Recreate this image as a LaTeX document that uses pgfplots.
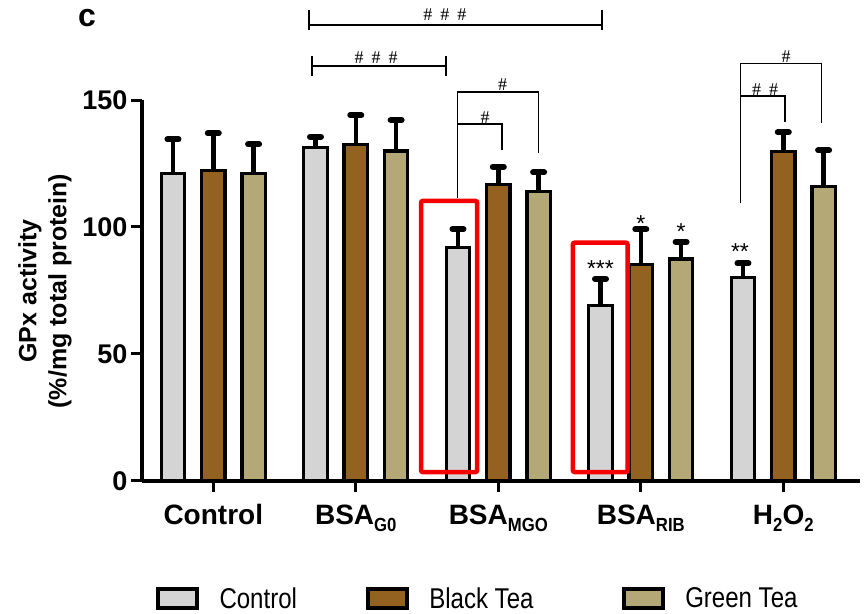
\documentclass[border=0pt]{standalone}
\usepackage{fontspec}
\setmainfont{Liberation Sans}
\newfontfamily\serifh{Liberation Serif}
\newfontfamily\narrowsans[FakeStretch=0.84]{Liberation Sans}
\usepackage{graphicx}
\usepackage{pgfplots}
\usepackage{pgfplotstable}
\pgfplotsset{compat=1.18}
\definecolor{ctrlgray}{RGB}{212,212,212}
\definecolor{blacktea}{RGB}{147,98,33}
\definecolor{greentea}{RGB}{180,168,118}
\definecolor{boxred}{RGB}{245,0,0}
\newcommand{\sub}[1]{\raisebox{-6.5pt}{\fontsize{19}{19}\selectfont\scalebox{0.88}[1]{#1}}}
\newcommand{\hh}{\#}
\pgfplotstableread{
x y e
0 121.0 13.5
1 131.2 4.3
2 91.8 7.3
3 69.0 10.6
4 80.2 5.5
}\ctrltab
\pgfplotstableread{
x y e
0 122.3 14.6
1 132.5 11.5
2 116.8 6.9
3 85.2 13.9
4 129.6 7.7
}\blacktab
\pgfplotstableread{
x y e
0 121.0 11.6
1 129.9 12.2
2 113.9 7.6
3 87.4 6.7
4 115.8 14.4
}\greentab
\begin{document}
\begin{tikzpicture}
\begin{axis}[
  scale only axis,
  width=718pt, height=380.7pt,
  xmin=-0.5, xmax=4.54,
  ymin=0, ymax=150,
  clip=false,
  ybar=16.9pt, bar width=23.4pt,
  axis x line=bottom, axis y line=left,
  axis line style={-, line width=3.5pt},
  tick style={line width=3pt, black},
  major tick length=11pt,
  tick align=outside,
  xtick={0,1,2,3,4},
  xticklabels={Control, BSA\sub{G0}, BSA\sub{MGO}, BSA\sub{RIB}, H\sub{2}O\sub{2}},
  ytick={0,50,100,150},
  /pgf/number format/assume math mode=true,
  yticklabel style={font=\fontsize{27}{27}\selectfont\bfseries},
  xticklabel style={font=\fontsize{28}{28}\selectfont\bfseries, anchor=base, yshift=-33pt},
  ylabel={GPx activity\\(\%/mg total protein)},
  ylabel style={at={(axis description cs:-0.1351,0.4983)}, anchor=center, align=center, font=\fontsize{25}{30}\selectfont\bfseries},
  legend columns=3,
  legend style={at={(axis cs:-0.416,-46.34)}, anchor=west, draw=none, fill=none, inner sep=0pt, column sep=0pt, cells={anchor=west}, nodes={inner sep=0pt}, font=\narrowsans\fontsize{28.6}{30}\selectfont},
  error bars/y dir=plus, error bars/y explicit,
  error bars/error bar style={line width=4.5pt, black, solid},
  error bars/error mark options={rotate=90, mark size=5.5pt, line width=6pt, line cap=round, black, solid},
]
\addplot[fill=ctrlgray, draw=black, line width=3.3pt,
  legend image code/.code={\draw[line width=4.4pt, fill=ctrlgray, draw=black] (2.2pt,-9.55pt) rectangle (41.3pt,9.55pt); \path (0pt,0pt) (62pt,0pt);}]
  table[x=x, y=y, y error=e]{\ctrltab};
\addplot[fill=blacktea, draw=black, line width=3.3pt,
  legend image code/.code={\draw[line width=4.4pt, fill=blacktea, draw=black] (2.2pt,-9.55pt) rectangle (41.3pt,9.55pt); \path (0pt,0pt) (62pt,0pt);}]
  table[x=x, y=y, y error=e]{\blacktab};
\addplot[fill=greentea, draw=black, line width=3.3pt,
  legend image code/.code={\draw[line width=4.4pt, fill=greentea, draw=black] (2.2pt,-9.55pt) rectangle (41.3pt,9.55pt); \path (0pt,0pt) (62pt,0pt);}]
  table[x=x, y=y, y error=e]{\greentab};
\legend{\makebox[144.4pt][l]{Control}, \makebox[190.6pt][l]{Black Tea}, Green Tea}
% red highlight boxes
\draw[boxred, line width=4.5pt, rounded corners=2pt] (axis cs:1.4576,3.43) rectangle (axis cs:1.852,110.28);
\draw[boxred, line width=4.5pt, rounded corners=2pt] (axis cs:2.523,3.43) rectangle (axis cs:2.907,93.85);
% top brackets
\draw[line width=1.3pt] (axis cs:0.671,179.6) -- (axis cs:2.726,179.6);
\draw[line width=2.5pt] (axis cs:0.671,177.7) -- (axis cs:0.671,185.6);
\draw[line width=2.5pt] (axis cs:2.726,177.7) -- (axis cs:2.726,185.6);
\draw[line width=1.3pt] (axis cs:0.693,163.4) -- (axis cs:1.633,163.4);
\draw[line width=2.5pt] (axis cs:0.693,159.5) -- (axis cs:0.693,167.3);
\draw[line width=2.5pt] (axis cs:1.633,159.5) -- (axis cs:1.633,167.3);
% MGO brackets
\draw[line width=1.3pt] (axis cs:1.712,111.3) -- (axis cs:1.712,153.15) -- (axis cs:2.283,153.15) -- (axis cs:2.283,129.2);
\draw[line width=1.3pt] (axis cs:1.712,140.6) -- (axis cs:2.026,140.6) -- (axis cs:2.026,130.3);
% H2O2 brackets
\draw[line width=1.3pt] (axis cs:3.701,109.3) -- (axis cs:3.701,164.5) -- (axis cs:4.269,164.5) -- (axis cs:4.269,140.8);
\draw[line width=1.3pt] (axis cs:3.701,151.6) -- (axis cs:4.012,151.6) -- (axis cs:4.012,141.5);
% hash marks
\begin{scope}[every node/.style={font=\serifh\fontsize{18}{18}\selectfont, anchor=base, inner sep=0pt}]
\node at (axis cs:1.626,181.25) {\hh\hspace{8pt}\hh\hspace{8pt}\hh};
\node at (axis cs:1.142,164.4) {\hh\hspace{8pt}\hh\hspace{8pt}\hh};
\node at (axis cs:2.031,153.7) {\hh};
\node at (axis cs:1.907,140.8) {\hh};
\node at (axis cs:4.020,164.7) {\hh};
\node at (axis cs:3.872,151.97) {\hh\hspace{8pt}\hh};
\end{scope}
% asterisks
\begin{scope}[every node/.style={font=\fontsize{23}{23}\selectfont, anchor=base, inner sep=0pt}]
\node at (axis cs:2.717,80.34) {***};
\node at (axis cs:3.0,98.3) {*};
\node at (axis cs:3.283,95.15) {*};
\node at (axis cs:3.696,87.27) {**};
\end{scope}
\node[anchor=base, inner sep=0pt, font=\fontsize{32}{32}\selectfont\bfseries] at (axis cs:-0.886,178.9) {c};
\coordinate (BL) at (axis cs:-1.4968,-52.13);
\coordinate (TR) at (axis cs:4.5663,189.40);
\end{axis}
\pgfresetboundingbox
\path[use as bounding box] (BL) rectangle (TR);
\end{tikzpicture}
\end{document}
